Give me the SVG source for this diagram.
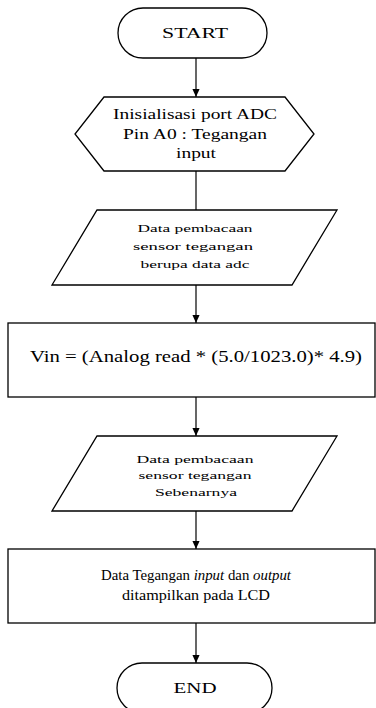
<svg xmlns="http://www.w3.org/2000/svg" width="376" height="708" viewBox="0 0 376 708">
<defs>
<style>
.s{fill:#fff;stroke:#000;stroke-width:1.3}
.t{font-family:"Liberation Serif","Times New Roman",serif;fill:#000;text-anchor:middle}
.c{stroke:#000;stroke-width:1.2;fill:none}
</style>
<marker id="a" markerWidth="8" markerHeight="9" refX="9" refY="4" orient="auto" markerUnits="userSpaceOnUse" viewBox="0 0 9 8">
<path d="M0,0 L9,4 L0,8 Z" fill="#000"/>
</marker>
</defs>
<rect width="376" height="708" fill="#fff"/>
<g id="connectors">
<line class="c" x1="196" y1="58" x2="196" y2="97" marker-end="url(#a)"/>
<line class="c" x1="196" y1="171" x2="196" y2="210"/>
<line class="c" x1="196" y1="285" x2="196" y2="323" marker-end="url(#a)"/>
<line class="c" x1="196" y1="397" x2="196" y2="436" marker-end="url(#a)"/>
<line class="c" x1="196" y1="511" x2="196" y2="549" marker-end="url(#a)"/>
<line class="c" x1="196" y1="623" x2="196" y2="663" marker-end="url(#a)"/>
</g>
<g id="start">
<rect class="s" x="118" y="8" width="149" height="50" rx="25" ry="25"/>
<text class="t" x="195" y="38" font-size="15" textLength="66" lengthAdjust="spacingAndGlyphs">START</text>
</g>
<g id="init">
<polygon class="s" points="104,97 285,97 314,134 285,171 104,171 75,134"/>
<text class="t" x="195" y="119" font-size="14" textLength="164" lengthAdjust="spacingAndGlyphs">Inisialisasi port ADC</text>
<text class="t" x="195" y="139" font-size="14" textLength="144" lengthAdjust="spacingAndGlyphs">Pin A0 : Tegangan</text>
<text class="t" x="196" y="158" font-size="14" textLength="40" lengthAdjust="spacingAndGlyphs">input</text>
</g>
<g id="read-adc">
<polygon class="s" points="97,210 337,210 292,285 52,285"/>
<text class="t" x="195" y="232" font-size="10.5" textLength="115" lengthAdjust="spacingAndGlyphs">Data pembacaan</text>
<text class="t" x="193" y="250" font-size="10.5" textLength="120" lengthAdjust="spacingAndGlyphs">sensor tegangan</text>
<text class="t" x="195" y="268" font-size="10.5" textLength="109" lengthAdjust="spacingAndGlyphs">berupa data adc</text>
</g>
<g id="vin">
<rect class="s" x="8" y="323" width="367" height="74"/>
<text class="t" x="196" y="362" font-size="16" textLength="332" lengthAdjust="spacingAndGlyphs">Vin = (Analog read * (5.0/1023.0)* 4.9)</text>
</g>
<g id="read-real">
<polygon class="s" points="97,436 337,436 292,511 52,511"/>
<text class="t" x="195" y="463" font-size="10.5" textLength="117" lengthAdjust="spacingAndGlyphs">Data pembacaan</text>
<text class="t" x="195" y="479" font-size="10.5" textLength="113" lengthAdjust="spacingAndGlyphs">sensor tegangan</text>
<text class="t" x="196" y="496" font-size="10.5" textLength="82" lengthAdjust="spacingAndGlyphs">Sebenarnya</text>
</g>
<g id="display">
<rect class="s" x="8" y="549" width="367" height="74"/>
<text class="t" x="196" y="580" font-size="15" textLength="190" lengthAdjust="spacingAndGlyphs">Data Tegangan <tspan font-style="italic">input</tspan> dan <tspan font-style="italic">output</tspan></text>
<text class="t" x="196" y="600" font-size="15" textLength="148" lengthAdjust="spacingAndGlyphs">ditampilkan pada LCD</text>
</g>
<g id="end">
<rect class="s" x="117" y="663" width="155" height="50" rx="25" ry="25"/>
<text class="t" x="195" y="693" font-size="15" textLength="43" lengthAdjust="spacingAndGlyphs">END</text>
</g>
</svg>
